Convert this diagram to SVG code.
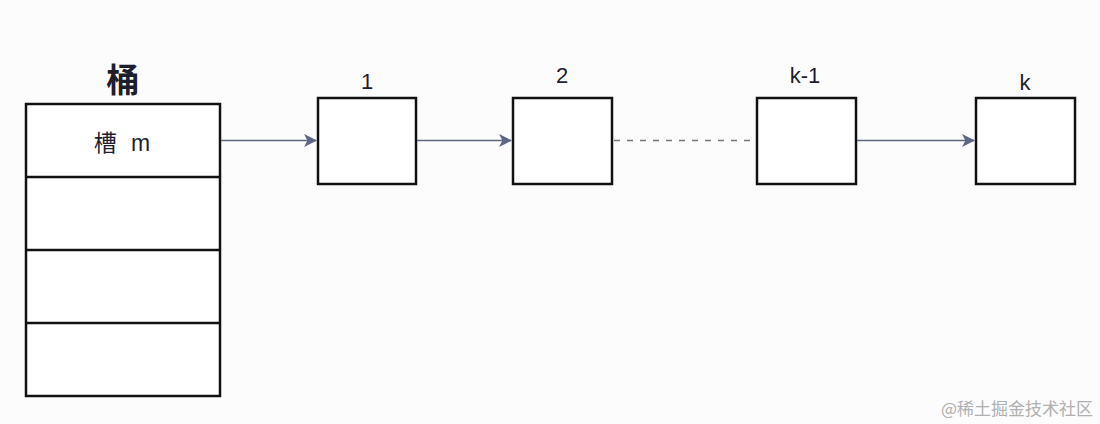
<svg xmlns="http://www.w3.org/2000/svg" width="1100" height="424" viewBox="0 0 1100 424">
<style>
.box{fill:#fff;stroke:#111;stroke-width:2.5}
.lbl{font-family:"Liberation Sans","Noto Sans CJK SC",sans-serif;fill:#1e1e2e;text-anchor:middle}
.conn{stroke:#5b6785;stroke-width:1.5;fill:none}
.dash{stroke:#777;stroke-width:1.3;stroke-dasharray:6 7;fill:none}
</style>
<defs>
<marker id="ah" viewBox="0 0 12 12" refX="11" refY="6" markerWidth="13" markerHeight="13" markerUnits="userSpaceOnUse" orient="auto">
<path d="M0,0 L12,6 L0,12 L3,6 Z" fill="#5b6785"/>
</marker>
</defs>
<rect width="1100" height="424" fill="#fcfcfd"/>
<g id="bucket">
<text class="lbl" x="123" y="92" font-size="33" font-weight="bold" fill="#2a2a48">桶</text>
<rect class="box" x="26" y="104" width="194" height="292"/>
<line x1="26" y1="177" x2="220" y2="177" stroke="#111" stroke-width="2.5"/>
<line x1="26" y1="250" x2="220" y2="250" stroke="#111" stroke-width="2.5"/>
<line x1="26" y1="323" x2="220" y2="323" stroke="#111" stroke-width="2.5"/>
<text class="lbl" x="122" y="151" font-size="23" word-spacing="8">槽 m</text>
</g>
<g id="node1">
<rect class="box" x="318" y="98" width="98" height="86"/>
<text class="lbl" x="367" y="89" font-size="22">1</text>
</g>
<g id="node2">
<rect class="box" x="513" y="98" width="99" height="86"/>
<text class="lbl" x="562" y="83" font-size="22">2</text>
</g>
<g id="nodek1">
<rect class="box" x="757" y="98" width="99" height="86"/>
<text class="lbl" x="805" y="83" font-size="22">k-1</text>
</g>
<g id="nodek">
<rect class="box" x="976" y="98" width="99" height="86"/>
<text class="lbl" x="1025" y="90" font-size="22">k</text>
</g>
<g id="connectors">
<line class="conn" x1="221" y1="140.5" x2="316" y2="140.5" marker-end="url(#ah)"/>
<line class="conn" x1="417" y1="140.5" x2="511" y2="140.5" marker-end="url(#ah)"/>
<line class="dash" x1="614" y1="140.5" x2="756" y2="140.5"/>
<line class="conn" x1="857" y1="140.5" x2="974" y2="140.5" marker-end="url(#ah)"/>
</g>
<text x="1093" y="415" font-family="'Noto Sans CJK SC',sans-serif" font-size="17" fill="#b0b0b0" text-anchor="end">@稀土掘金技术社区</text>
</svg>
